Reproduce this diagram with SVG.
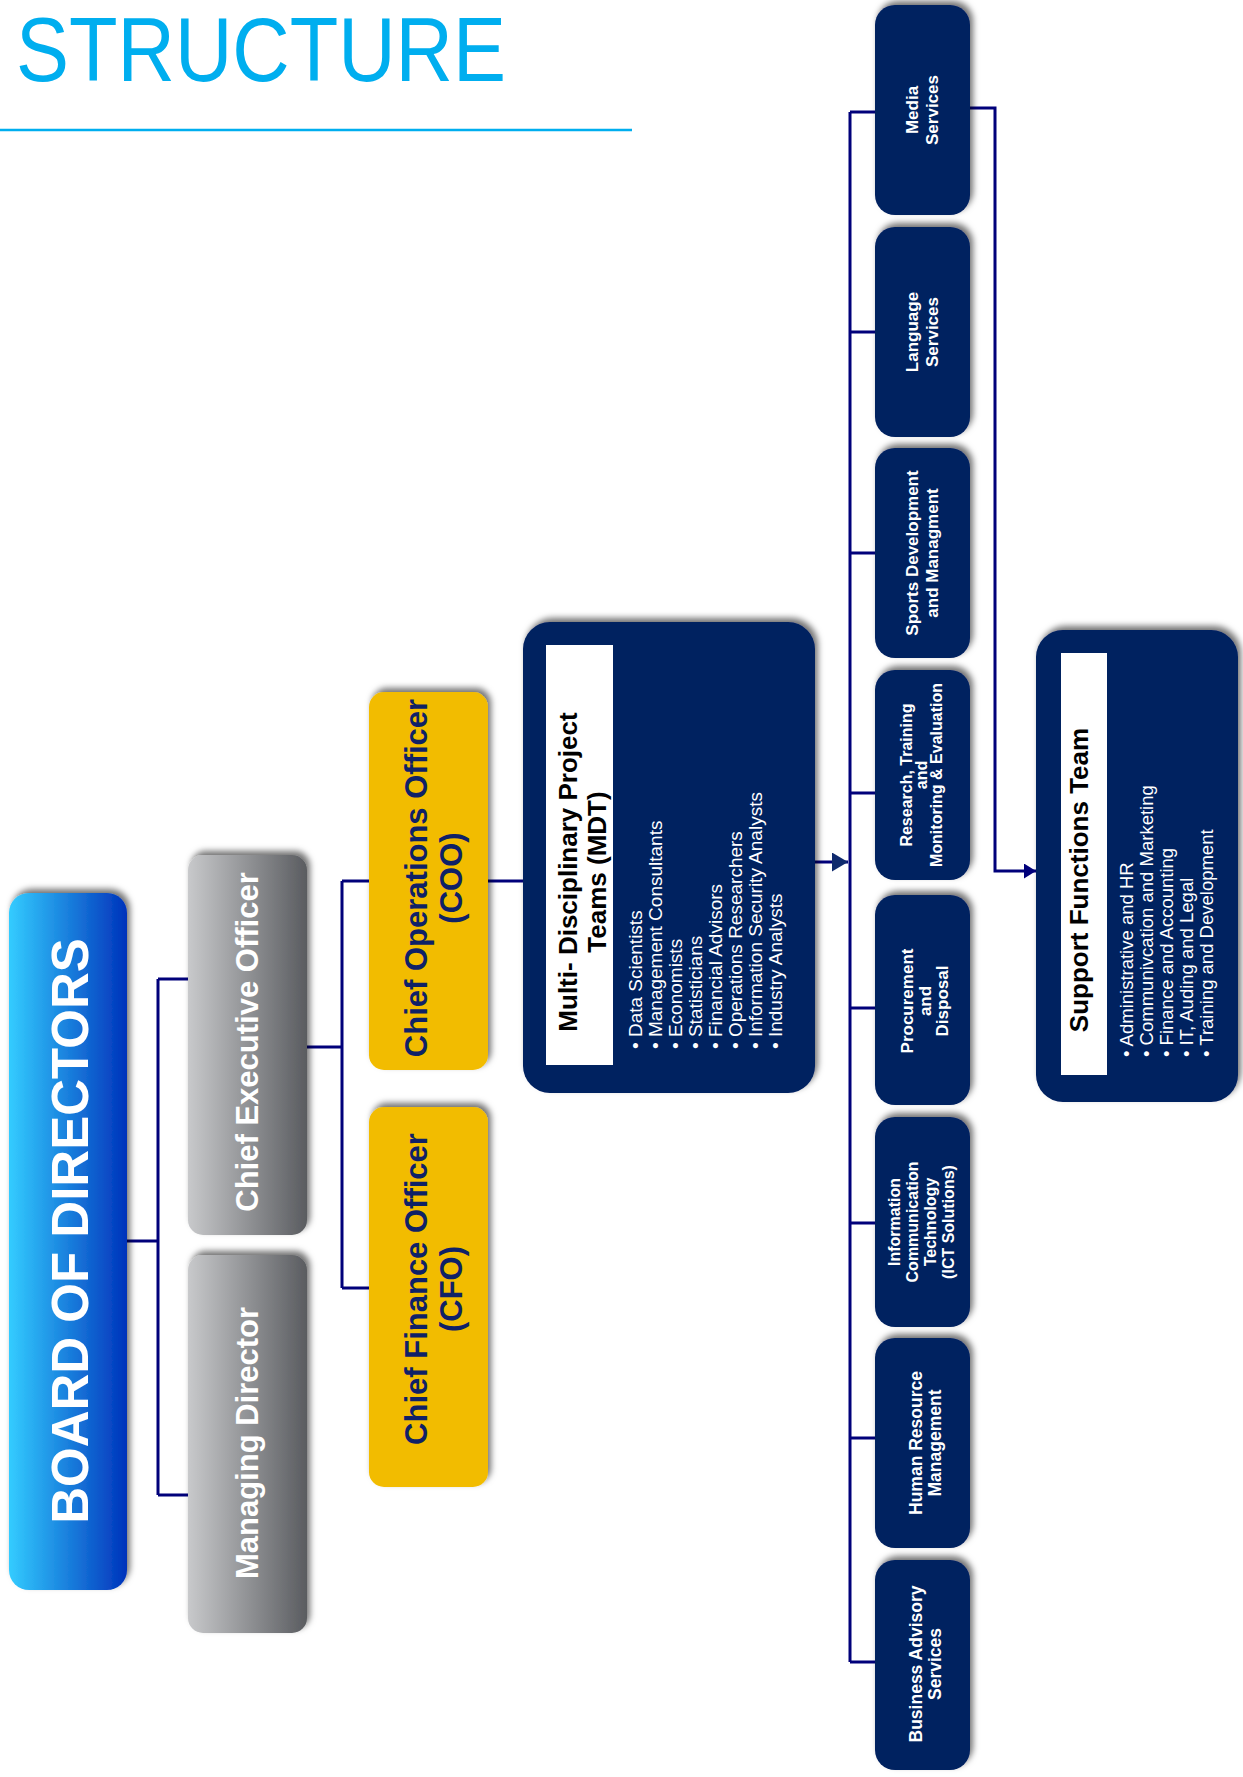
<svg xmlns="http://www.w3.org/2000/svg" width="1243" height="1777" viewBox="0 0 1243 1777">
<style>
.t{font-family:"Liberation Sans",Arial,sans-serif}
.b{font-weight:bold}
.w{fill:#ffffff}
.navy{fill:#002060}
.gold{fill:#f2bc00}
.goldtx{fill:#0f2167;font-weight:bold;font-size:31px}
.small{fill:#ffffff;font-weight:bold;text-anchor:middle}
.conn{fill:none;stroke:#00007a;stroke-width:3}
</style>
<defs>
<linearGradient id="gBlue" x1="0" y1="0" x2="1" y2="0">
<stop offset="0" stop-color="#33ccff"/>
<stop offset="1" stop-color="#0033bb"/>
</linearGradient>
<linearGradient id="gGray" x1="0" y1="0" x2="1" y2="0">
<stop offset="0" stop-color="#c8c9cb"/>
<stop offset="1" stop-color="#5a5c60"/>
</linearGradient>
<filter id="sh" x="-20%" y="-20%" width="140%" height="140%">
<feDropShadow dx="3" dy="-4" stdDeviation="3" flood-color="#000" flood-opacity="0.55"/>
</filter>
<marker id="arr1" markerUnits="userSpaceOnUse" markerWidth="16" markerHeight="19" refX="16" refY="9.5" orient="auto">
<path d="M0,0 L16,9.5 L0,19 z" fill="#0f2a6e"/>
</marker>
<marker id="arr2" markerUnits="userSpaceOnUse" markerWidth="12" markerHeight="15" refX="12" refY="7.5" orient="auto">
<path d="M0,0 L12,7.5 L0,15 z" fill="#00007a"/>
</marker>
</defs>

<g id="title">
<text class="t" x="16" y="81" font-size="91" textLength="490" lengthAdjust="spacingAndGlyphs" fill="#00aeef">STRUCTURE</text>
<line x1="0" y1="130" x2="632" y2="130" stroke="#00aeef" stroke-width="2.5"/>
</g>

<g id="connectors">
<path class="conn" d="M127,1241 H158 M158,979 V1495 M158,979 H188 M158,1495 H188"/>
<path class="conn" d="M307,1047 H342 M342,881 V1288 M342,881 H369 M342,1288 H369"/>
<path class="conn" d="M488,881 H523"/>
<path class="conn" d="M815,862 H848" stroke="#0f2a6e" marker-end="url(#arr1)"/>
<path class="conn" d="M850,112 V1662"/>
<path class="conn" d="M850,112 H875 M850,332 H875 M850,553 H875 M850,793 H875 M850,1008 H875 M850,1223 H875 M850,1438 H875 M850,1662 H875"/>
<path class="conn" d="M970,108 H995 V871 H1036" marker-end="url(#arr2)"/>
</g>

<g id="board">
<rect x="9" y="893" width="118" height="697" rx="20" fill="url(#gBlue)" filter="url(#sh)"/>
<text class="t b w" font-size="51" text-anchor="middle" transform="translate(88,1231) rotate(-90)">BOARD OF DIRECTORS</text>
</g>

<g id="ceo">
<rect x="188" y="855" width="119" height="380" rx="15" fill="url(#gGray)" filter="url(#sh)"/>
<text class="t b w" font-size="31" text-anchor="middle" transform="translate(258,1042) rotate(-90)">Chief Executive Officer</text>
</g>

<g id="md">
<rect x="188" y="1255" width="119" height="378" rx="15" fill="url(#gGray)" filter="url(#sh)"/>
<text class="t b w" font-size="31" text-anchor="middle" transform="translate(258,1443) rotate(-90)">Managing Director</text>
</g>

<g id="coo">
<rect class="gold" x="369" y="692" width="119" height="378" rx="15" filter="url(#sh)"/>
<text class="t goldtx" text-anchor="middle" transform="translate(427,878) rotate(-90)"><tspan x="0" y="0">Chief Operations Officer</tspan><tspan x="0" dy="35">(COO)</tspan></text>
</g>

<g id="cfo">
<rect class="gold" x="369" y="1107" width="119" height="380" rx="15" filter="url(#sh)"/>
<text class="t goldtx" text-anchor="middle" transform="translate(427,1289) rotate(-90)"><tspan x="0" y="0">Chief Finance Officer</tspan><tspan x="0" dy="35">(CFO)</tspan></text>
</g>

<g id="mdt">
<rect class="navy" x="523" y="622" width="292" height="471" rx="27" filter="url(#sh)"/>
<rect x="546" y="645" width="67" height="420" fill="#ffffff"/>
<text class="t b" font-size="26" fill="#000" text-anchor="middle" transform="translate(577,872) rotate(-90)"><tspan x="0" y="0">Multi- Disciplinary Project</tspan><tspan x="0" dy="29">Teams (MDT)</tspan></text>
<text class="t w" font-size="19" transform="translate(642,1049) rotate(-90)"><tspan x="0" y="0">• Data Scientists</tspan><tspan x="0" dy="20">• Management Consultants</tspan><tspan x="0" dy="20">• Economists</tspan><tspan x="0" dy="20">• Statisticians</tspan><tspan x="0" dy="20">• Financial Advisors</tspan><tspan x="0" dy="20">• Operations Researchers</tspan><tspan x="0" dy="20">• Information Security Analysts</tspan><tspan x="0" dy="20">• Industry Analysts</tspan></text>
</g>

<g id="media">
<rect class="navy" x="875" y="5" width="95" height="210" rx="20" filter="url(#sh)"/>
<text class="t small" font-size="17" transform="translate(918,110) rotate(-90)"><tspan x="0" y="0">Media</tspan><tspan x="0" dy="20">Services</tspan></text>
</g>

<g id="language">
<rect class="navy" x="875" y="227" width="95" height="210" rx="20" filter="url(#sh)"/>
<text class="t small" font-size="17" transform="translate(918,332) rotate(-90)"><tspan x="0" y="0">Language</tspan><tspan x="0" dy="20">Services</tspan></text>
</g>

<g id="sports">
<rect class="navy" x="875" y="448" width="95" height="210" rx="20" filter="url(#sh)"/>
<text class="t small" font-size="17" transform="translate(918,553) rotate(-90)"><tspan x="0" y="0">Sports Development</tspan><tspan x="0" dy="20">and Managment</tspan></text>
</g>

<g id="research">
<rect class="navy" x="875" y="670" width="95" height="210" rx="20" filter="url(#sh)"/>
<text class="t small" font-size="16" transform="translate(912,775) rotate(-90)"><tspan x="0" y="0">Research, Training</tspan><tspan x="0" dy="15">and</tspan><tspan x="0" dy="15">Monitoring &amp; Evaluation</tspan></text>
</g>

<g id="procurement">
<rect class="navy" x="875" y="895" width="95" height="210" rx="20" filter="url(#sh)"/>
<text class="t small" font-size="17" transform="translate(913,1001) rotate(-90)"><tspan x="0" y="0">Procurement</tspan><tspan x="0" dy="17.5">and</tspan><tspan x="0" dy="17.5">Disposal</tspan></text>
</g>

<g id="ict">
<rect class="navy" x="875" y="1117" width="95" height="210" rx="20" filter="url(#sh)"/>
<text class="t small" font-size="16" transform="translate(900,1222) rotate(-90)"><tspan x="0" y="0">Information</tspan><tspan x="0" dy="18">Communication</tspan><tspan x="0" dy="18">Technology</tspan><tspan x="0" dy="18">(ICT Solutions)</tspan></text>
</g>

<g id="hr">
<rect class="navy" x="875" y="1338" width="95" height="210" rx="20" filter="url(#sh)"/>
<text class="t small" font-size="17.5" transform="translate(922,1443) rotate(-90)"><tspan x="0" y="0">Human Resource</tspan><tspan x="0" dy="19">Management</tspan></text>
</g>

<g id="business">
<rect class="navy" x="875" y="1560" width="95" height="210" rx="20" filter="url(#sh)"/>
<text class="t small" font-size="17.5" transform="translate(922,1664) rotate(-90)"><tspan x="0" y="0">Business Advisory</tspan><tspan x="0" dy="19">Services</tspan></text>
</g>

<g id="support">
<rect class="navy" x="1036" y="630" width="202" height="472" rx="27" filter="url(#sh)"/>
<rect x="1061" y="653" width="46" height="422" fill="#ffffff"/>
<text class="t b" font-size="26" fill="#000" text-anchor="middle" transform="translate(1088,880) rotate(-90)">Support Functions Team</text>
<text class="t w" font-size="18.5" transform="translate(1133,1057) rotate(-90)"><tspan x="0" y="0">• Administrative and HR</tspan><tspan x="0" dy="20">• Communivcation and Marketing</tspan><tspan x="0" dy="20">• Finance and Accounting</tspan><tspan x="0" dy="20">• IT, Auding and Legal</tspan><tspan x="0" dy="20">• Training and Development</tspan></text>
</g>
</svg>
